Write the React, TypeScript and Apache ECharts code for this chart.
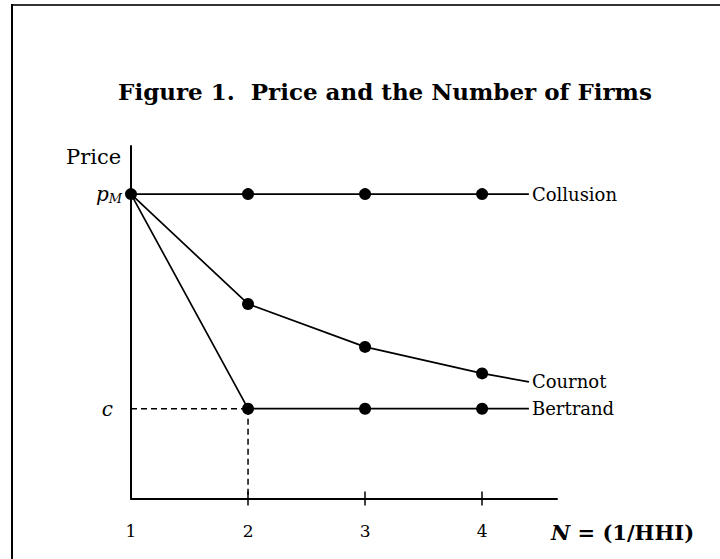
import React, { useEffect, useRef } from "react";
import * as echarts from "echarts";

// Data
const nTicks = [1, 2, 3, 4];
const tickMarks = [2, 3, 4];
const xPoints = [1, 2, 3, 4, 4.4]; // last point = end of the drawn line (no marker)
const pM = 10;
const cCost = 2.95;
const collusion = [10, 10, 10, 10, 10];
const cournot = [10, 6.39, 4.98, 4.11, 3.83];
const bertrand = [10, 2.95, 2.95, 2.95, 2.95];
const seriesNames = ["Collusion", "Cournot", "Bertrand"];

const FONT = "DejaVu Serif";

function toData(vals: number[]) {
  return vals.map((v, i) =>
    i === 0 || i === vals.length - 1
      ? { value: [xPoints[i], v], symbol: "none" }
      : { value: [xPoints[i], v] }
  );
}

export default function App() {
  const ref = useRef<HTMLDivElement>(null);
  useEffect(() => {
    if (!ref.current) return;
    const chart = echarts.init(ref.current, null, { renderer: "svg" });
    const lineSeries = [collusion, cournot, bertrand].map((vals, k) => ({
      type: "line",
      name: seriesNames[k],
      data: toData(vals),
      symbol: "circle",
      symbolSize: 12,
      itemStyle: { color: "#000", opacity: 1 },
      lineStyle: { color: "#000", width: 1.7 },
      endLabel: {
        show: true,
        formatter: (p: any) => p.seriesName,
        fontFamily: FONT,
        fontSize: 18,
        color: "#000",
        distance: 3,
      },
      z: 3,
    }));
    chart.setOption({
      animation: false,
      backgroundColor: "#fff",
      grid: { left: 131, top: 146, right: 163, bottom: 60.5 },
      xAxis: [
        {
          type: "value",
          min: 1,
          max: 4.64,
          interval: 1,
          splitLine: { show: false },
          axisLine: { lineStyle: { color: "#000", width: 2 } },
          axisTick: { show: true, customValues: tickMarks, length: 7, lineStyle: { color: "#000", width: 1.5 } },
          axisLabel: {
            customValues: nTicks,
            margin: 24,
            fontFamily: FONT,
            fontSize: 17,
            color: "#000",
          },
        },
        {
          type: "value",
          min: 1,
          max: 4.64,
          interval: 1,
          position: "bottom",
          splitLine: { show: false },
          axisLine: { show: false },
          axisTick: { show: true, inside: true, customValues: tickMarks, length: 7, lineStyle: { color: "#000", width: 1.5 } },
          axisLabel: { show: false },
        },
      ],
      yAxis: {
        type: "value",
        min: 0,
        max: 11.58,
        splitLine: { show: false },
        axisLine: { show: true, lineStyle: { color: "#000", width: 2 } },
        axisTick: { show: false },
        axisLabel: {
          customValues: [cCost, pM],
          margin: 9,
          formatter: (v: number) => (v === pM ? "{p|p}{m|M}" : "{c|c}"),
          rich: {
            p: { fontFamily: FONT, fontStyle: "italic", fontSize: 20, color: "#000" },
            m: { fontFamily: FONT, fontStyle: "italic", fontSize: 13, color: "#000", padding: [8, 0, 0, 0] },
            c: { fontFamily: FONT, fontStyle: "italic", fontSize: 20, color: "#000", padding: [0, 9, 0, 0] },
          },
        },
      },
      graphic: [
        { type: "line", shape: { x1: 11, y1: 5, x2: 720, y2: 5 }, style: { stroke: "#333", lineWidth: 2 } },
        { type: "line", shape: { x1: 12, y1: 4, x2: 12, y2: 559 }, style: { stroke: "#000", lineWidth: 2 } },
        {
          type: "text",
          x: 385,
          y: 91,
          style: {
            text: "Figure 1.  Price and the Number of Firms",
            font: `bold 23px "${FONT}"`,
            fill: "#000",
            align: "center",
            verticalAlign: "middle",
          },
        },
        {
          type: "text",
          x: 66,
          y: 157,
          style: { text: "Price", font: `21px "${FONT}"`, fill: "#000", verticalAlign: "middle" },
        },
        {
          type: "text",
          x: 551,
          y: 532,
          style: {
            text: "{i|N}{b| = (1/HHI)}",
            verticalAlign: "middle",
            rich: {
              i: { fontFamily: FONT, fontStyle: "italic", fontWeight: "bold", fontSize: 21, fill: "#000" },
              b: { fontFamily: FONT, fontWeight: "bold", fontSize: 21, fill: "#000" },
            },
          },
        },
      ],
      series: [
        ...lineSeries,
        {
          type: "line",
          data: [
            [xPoints[0], cCost],
            [xPoints[1], cCost],
          ],
          symbol: "none",
          lineStyle: { color: "#000", width: 1.5, type: [6, 4] },
          z: 2,
        },
        {
          type: "line",
          data: [
            [xPoints[1], cCost],
            [xPoints[1], 0],
          ],
          symbol: "none",
          lineStyle: { color: "#000", width: 1.5, type: [6, 4] },
          z: 2,
        },
        {
          type: "scatter",
          data: [[xPoints[0], pM]],
          symbol: "circle",
          symbolSize: 12,
          itemStyle: { color: "#000", opacity: 1 },
          z: 4,
        },
      ],
    });
    return () => chart.dispose();
  }, []);
  return (
    <div
      ref={ref}
      style={{ position: "fixed", left: 0, top: 0, width: 720, height: 559, background: "#fff" }}
    />
  );
}
